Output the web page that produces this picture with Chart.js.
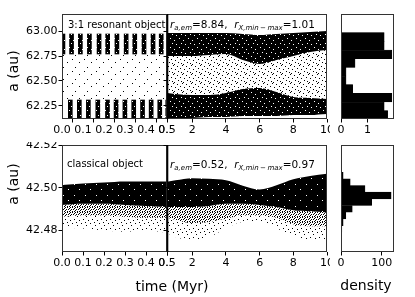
<!DOCTYPE html>
<html>
<head>
<meta charset="utf-8">
<script src="https://cdn.jsdelivr.net/npm/chart.js@4.4.0/dist/chart.umd.min.js"></script>
<style>
  body { margin: 0; background: #fff; }
  #fig { position: relative; width: 415px; height: 297px; overflow: hidden; font-family: "DejaVu Sans", sans-serif; color: #000; }
  #fig canvas { position: absolute; }
  .txt { position: absolute; white-space: nowrap; line-height: 1; }
  .rot { transform: translate(-50%, -50%) rotate(-90deg); }
  .it { font-style: italic; }
  .sub { font-style: italic; font-size: 7px; position: relative; top: 2.5px; }
</style>
</head>
<body>
<div id="fig"></div>
<script>
// ---- data ----
// 3:1 resonant object, 0-0.5 Myr: libration columns (time in Myr, a range in au)
const resUpperColTimes = [0.014, 0.055, 0.097, 0.140, 0.186, 0.227, 0.271, 0.315, 0.356, 0.400, 0.443, 0.482];
const resLowerColTimes = [0.030, 0.073, 0.116, 0.161, 0.207, 0.248, 0.290, 0.332, 0.374, 0.415, 0.456, 0.494];
const resUpperColRange = [62.77, 62.97];
const resLowerColRange = [62.13, 62.31];
const resEarlyTimes = [0, 0.5];
const resEarlySparseTop = [62.77, 62.77];
const resEarlySparseBottom = [62.31, 62.31];

// 3:1 resonant object, 0.5-10 Myr: envelopes of the two dense bands
const midTimes = [0.5, 1, 2, 3, 4, 5, 6, 7, 8, 9, 10];
const resUpperTop = [62.98, 62.98, 62.98, 62.98, 62.98, 62.97, 62.96, 62.97, 62.98, 62.99, 63.00];
const resUpperBottom = [62.75, 62.75, 62.75, 62.76, 62.77, 62.71, 62.67, 62.71, 62.75, 62.79, 62.81];
const resLowerTop = [62.38, 62.37, 62.36, 62.36, 62.38, 62.42, 62.43, 62.39, 62.34, 62.33, 62.32];
const resLowerBottom = [62.13, 62.13, 62.13, 62.14, 62.14, 62.15, 62.15, 62.15, 62.16, 62.16, 62.17];

// classical object, 0-0.5 Myr
const clsEarlyTimes = [0, 0.1, 0.2, 0.3, 0.4, 0.5];
const clsEarlyDenseTop = [42.5013, 42.502, 42.5025, 42.503, 42.503, 42.503];
const clsEarlyDenseBottom = [42.492, 42.4925, 42.4925, 42.492, 42.4915, 42.491];
const clsEarlyMidBottom = [42.4865, 42.487, 42.487, 42.4865, 42.486, 42.486];
const clsEarlySparseBottom = [42.4815, 42.481, 42.480, 42.4795, 42.480, 42.479];

// classical object, 0.5-10 Myr
const clsDenseTop = [42.5028, 42.5035, 42.5045, 42.5042, 42.5035, 42.501, 42.4992, 42.5012, 42.504, 42.5055, 42.5066];
const clsDenseBottom = [42.491, 42.491, 42.491, 42.4915, 42.4925, 42.4925, 42.492, 42.491, 42.4895, 42.489, 42.4885];
const clsMidBottom = [42.486, 42.485, 42.4835, 42.484, 42.4855, 42.487, 42.487, 42.486, 42.483, 42.482, 42.482];
const clsSparseBottom = [42.479, 42.477, 42.4756, 42.477, 42.481, 42.484, 42.484, 42.481, 42.478, 42.4756, 42.4756];

// histograms (bin centres in au, density)
const resHistBins = [62.160, 62.247, 62.334, 62.420, 62.507, 62.594, 62.680, 62.767, 62.854, 62.940];
const resHistDensity = [1.76, 1.63, 1.92, 0.44, 0.19, 0.19, 0.53, 1.92, 1.63, 1.63];
const clsHistBins = [42.4777, 42.4808, 42.4839, 42.4870, 42.4902, 42.4933, 42.4964, 42.4995, 42.5026, 42.5057];
const clsHistDensity = [1.2, 2.1, 5.3, 11.9, 27.6, 75.3, 123, 58.9, 22.6, 5.3];

// tick labels
const earlyTicks = [0, 0.1, 0.2, 0.3, 0.4, 0.5];
const midTicks = [0.5, 2, 4, 6, 8, 10];
const resATicks = [62.25, 62.50, 62.75, 63.00];
const clsATicks = [42.48, 42.50, 42.52];
const resDensityTicks = [0, 1];
const clsDensityTicks = [0, 100];

// ---- drawing ----
const FONT = '"DejaVu Sans", sans-serif';
const T = 3, R = 3, B = 22;
const fig = document.getElementById('fig');

// small tiled textures that mimic the dense / sparse scatter of the orbit samples
function texture(size, bg, fg, dots) {
    const c = document.createElement('canvas');
    c.width = c.height = size;
    const g = c.getContext('2d');
    if (bg) { g.fillStyle = bg; g.fillRect(0, 0, size, size); }
    g.fillStyle = fg;
    dots.forEach(([x, y]) => g.fillRect(x, y, 1, 1));
    return g.createPattern(c, 'repeat');
}
const denseFill = texture(9, '#000', '#fff', [[1, 2], [6, 0], [3, 6], [8, 5]]);
const solidFill = texture(11, '#000', '#fff', [[2, 3], [8, 9]]);
const resSparseFill = texture(9, null, '#000', [[0, 0], [4, 1], [7, 3], [2, 4], [5, 6], [8, 7], [1, 8]]);
const earlySparseFill = texture(12, null, '#000', [[0, 0], [7, 3], [3, 8]]);
const clsMidFill = texture(5, null, '#000', [[0, 0], [2, 0], [4, 1], [1, 2], [3, 2], [0, 3], [2, 4], [4, 4]]);
const clsSparseFill = texture(9, null, '#000', [[0, 0], [5, 2], [2, 5], [7, 6], [4, 8]]);

// box frame around each panel, plus the black divider at t = 0.5 Myr
const framePlugin = {
    id: 'frame',
    afterDraw(chart, args, opts) {
        const { ctx, chartArea: a } = chart;
        ctx.save();
        ctx.strokeStyle = '#333';
        ctx.lineWidth = 1;
        ctx.strokeRect(Math.round(a.left) + 0.5, Math.round(a.top) + 0.5, Math.round(a.width) - 1, Math.round(a.height) - 1);
        if (opts.divider) {
            ctx.strokeStyle = '#000';
            ctx.lineWidth = 1.6;
            ctx.beginPath();
            ctx.moveTo(a.left + 0.5, a.top);
            ctx.lineTo(a.left + 0.5, a.bottom);
            ctx.stroke();
        }
        ctx.restore();
    }
};

function axis(min, max, ticks, fmt, size, labels, marks) {
    return {
        type: 'linear', min: min, max: max, offset: false,
        afterBuildTicks: s => { s.ticks = ticks.map(v => ({ value: v })); },
        afterFit: s => {
            if (s.isHorizontal()) s.height = size; else s.width = size;
            s.paddingLeft = s.paddingRight = s.paddingTop = s.paddingBottom = 0;
        },
        ticks: { display: labels, autoSkip: false, maxRotation: 0, padding: 1, color: '#000',
                 font: { family: FONT, size: 11 }, callback: v => fmt(v) },
        grid: { display: marks, drawOnChartArea: false, drawTicks: true, tickLength: 3.5, tickColor: '#000', tickWidth: 1 },
        border: { display: false }
    };
}

function panel(box, type, datasets, xAxis, yAxis, extra) {
    const cv = document.createElement('canvas');
    const w = box.w + box.left + R, h = box.h + T + B;
    cv.width = w;
    cv.height = h;
    Object.assign(cv.style, { left: (box.x - box.left) + 'px', top: (box.y - T) + 'px', width: w + 'px', height: h + 'px' });
    fig.appendChild(cv);
    return new Chart(cv, {
        type: type,
        data: { datasets: datasets },
        options: Object.assign({
            responsive: false, animation: false, events: [],
            layout: { padding: { top: T, right: R, left: 0, bottom: 0 } },
            plugins: { legend: { display: false }, tooltip: { enabled: false }, frame: (extra && extra.frame) || {} },
            scales: { x: xAxis, y: yAxis }
        }, (extra && extra.options) || {}),
        plugins: [framePlugin]
    });
}

function band(times, values, fill, color) {
    return { type: 'line', data: times.map((t, i) => ({ x: t, y: values[i] })),
             borderColor: 'transparent', borderWidth: 0, pointRadius: 0,
             fill: fill, backgroundColor: color, cubicInterpolationMode: 'monotone' };
}
function columns(times, range) {
    return { type: 'bar', data: times.map(t => ({ x: t, y: range })),
             backgroundColor: denseFill, barThickness: 4, borderWidth: 0 };
}
function hist(bins, dens) {
    return { type: 'bar', data: bins.map((b, i) => ({ x: dens[i], y: b })),
             backgroundColor: '#000', borderColor: '#000', borderWidth: 0.5,
             barPercentage: 1, categoryPercentage: 1 };
}

const fmtEarly = v => v.toFixed(1);
const fmtMid = v => String(v);
const fmtA = v => v.toFixed(2);
const fmtInt = v => String(v);

const boxTL = { x: 62, y: 14, w: 105, h: 105, left: 62 };
const boxTM = { x: 167, y: 14, w: 160, h: 105, left: 12 };
const boxTR = { x: 341, y: 14, w: 53, h: 105, left: 12 };
const boxBL = { x: 62, y: 145, w: 105, h: 107, left: 62 };
const boxBM = { x: 167, y: 145, w: 160, h: 107, left: 12 };
const boxBR = { x: 341, y: 145, w: 53, h: 107, left: 12 };

// top row: 3:1 resonant object
panel(boxTL, 'bar', [
    band(resEarlyTimes, resEarlySparseTop, false, 'transparent'),
    band(resEarlyTimes, resEarlySparseBottom, '-1', earlySparseFill),
    columns(resUpperColTimes, resUpperColRange),
    columns(resLowerColTimes, resLowerColRange)
], axis(0, 0.5, earlyTicks, fmtEarly, B, true, true),
   axis(62.12, 63.17, resATicks, fmtA, boxTL.left, true, true));

panel(boxTM, 'line', [
    band(midTimes, resUpperTop, false, 'transparent'),
    band(midTimes, resUpperBottom, '-1', denseFill),
    band(midTimes, resLowerTop, '-1', resSparseFill),
    band(midTimes, resLowerBottom, '-1', denseFill)
], axis(0.5, 10, midTicks, fmtMid, B, true, true),
   axis(62.12, 63.17, resATicks, fmtA, boxTM.left, false, true),
   { frame: { divider: true } });

panel(boxTR, 'bar', [hist(resHistBins, resHistDensity)],
   axis(0, 2.0, resDensityTicks, fmtInt, B, true, true),
   axis(62.12, 63.17, resATicks, fmtA, boxTR.left, false, false),
   { options: { indexAxis: 'y' } });

// bottom row: classical object
panel(boxBL, 'line', [
    band(clsEarlyTimes, clsEarlyDenseTop, false, 'transparent'),
    band(clsEarlyTimes, clsEarlyDenseBottom, '-1', solidFill),
    band(clsEarlyTimes, clsEarlyMidBottom, '-1', clsMidFill),
    band(clsEarlyTimes, clsEarlySparseBottom, '-1', clsSparseFill)
], axis(0, 0.5, earlyTicks, fmtEarly, B, true, true),
   axis(42.47, 42.52, clsATicks, fmtA, boxBL.left, true, true));

panel(boxBM, 'line', [
    band(midTimes, clsDenseTop, false, 'transparent'),
    band(midTimes, clsDenseBottom, '-1', solidFill),
    band(midTimes, clsMidBottom, '-1', clsMidFill),
    band(midTimes, clsSparseBottom, '-1', clsSparseFill)
], axis(0.5, 10, midTicks, fmtMid, B, true, true),
   axis(42.47, 42.52, clsATicks, fmtA, boxBM.left, false, true),
   { frame: { divider: true } });

panel(boxBR, 'bar', [hist(clsHistBins, clsHistDensity)],
   axis(0, 130, clsDensityTicks, fmtInt, B, true, true),
   axis(42.47, 42.52, clsATicks, fmtA, boxBR.left, false, false),
   { options: { indexAxis: 'y' } });

// ---- text ----
function text(html, x, baseline, size) {
    const d = document.createElement('div');
    d.className = 'txt';
    d.style.fontSize = size + 'px';
    d.style.left = x + 'px';
    d.style.top = (baseline - 0.846 * size) + 'px';
    d.innerHTML = html;
    fig.appendChild(d);
    return d;
}
function rotated(str, cx, cy, size) {
    const d = document.createElement('div');
    d.className = 'txt rot';
    d.style.fontSize = size + 'px';
    d.style.left = cx + 'px';
    d.style.top = cy + 'px';
    d.textContent = str;
    fig.appendChild(d);
}
function centered(str, cx, baseline, size) {
    const d = text(str, cx, baseline, size);
    d.style.transform = 'translateX(-50%)';
}

const rLabel = (em, mm) => '<span class="it">r</span><span class="sub">a,em</span>=' + em +
    ',&nbsp;&nbsp;<span class="it">r</span><span class="sub">X,min&thinsp;&minus;&thinsp;max</span>=' + mm;

text('3:1 resonant object', 68, 28.5, 10);
text(rLabel('8.84', '1.01'), 170, 27.5, 10.5);
text('classical object', 67, 167.5, 10);
text(rLabel('0.52', '0.97'), 170, 167.5, 10.5);

rotated('a (au)', 12.5, 71, 14);
rotated('a (au)', 12.5, 184, 14);
centered('time (Myr)', 172, 291, 14);
centered('density', 366, 290, 14);
</script>
</body>
</html>
